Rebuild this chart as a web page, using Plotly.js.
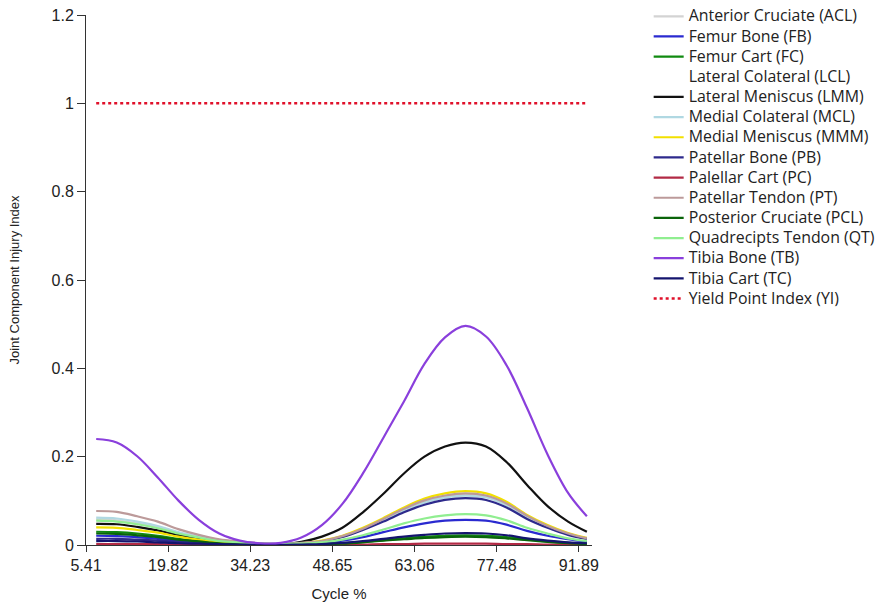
<!DOCTYPE html>
<html>
<head>
<meta charset="utf-8">
<script src="https://cdn.plot.ly/plotly-3.0.1.min.js"></script>
<style>
html,body{margin:0;padding:0;background:#fff;}
#chart{width:880px;height:610px;}
</style>
</head>
<body>
<div id="chart"></div>
<script>
// Cycle % sample positions
const cycle = [7.2, 10.8, 14.4, 18.0, 21.6, 25.2, 28.8, 32.4, 36.0, 39.6, 43.2, 46.8, 50.4, 54.0, 57.6, 61.2, 64.8, 68.4, 72.0, 75.6, 79.2, 82.8, 86.4, 90.0, 93.3];
const xTickVals = [5.41, 19.82, 34.23, 48.65, 63.06, 77.48, 91.89];
const xTickText = ["5.41", "19.82", "34.23", "48.65", "63.06", "77.48", "91.89"];
const yTickVals = [0, 0.2, 0.4, 0.6, 0.8, 1, 1.2];
const yTickText = ["0", "0.2", "0.4", "0.6", "0.8", "1", "1.2"];

const seriesNames = ["Anterior Cruciate (ACL)", "Femur Bone (FB)", "Femur Cart (FC)", "Lateral Colateral (LCL)", "Lateral Meniscus (LMM)", "Medial Colateral (MCL)", "Medial Meniscus (MMM)", "Patellar Bone (PB)", "Palellar Cart (PC)", "Patellar Tendon (PT)", "Posterior Cruciate (PCL)", "Quadrecipts Tendon (QT)", "Tibia Bone (TB)", "Tibia Cart (TC)", "Yield Point Index (YI)"];

const acl = [0.058, 0.056, 0.049, 0.040, 0.027, 0.017, 0.010, 0.006, 0.003, 0.002, 0.004, 0.009, 0.019, 0.036, 0.057, 0.080, 0.098, 0.109, 0.114, 0.109, 0.091, 0.064, 0.042, 0.025, 0.015];
const fb  = [0.021, 0.020, 0.018, 0.014, 0.010, 0.006, 0.004, 0.002, 0.001, 0.001, 0.002, 0.005, 0.010, 0.018, 0.029, 0.040, 0.049, 0.055, 0.057, 0.055, 0.046, 0.032, 0.021, 0.013, 0.007];
const fc  = [0.030, 0.029, 0.026, 0.021, 0.014, 0.009, 0.005, 0.003, 0.002, 0.001, 0.001, 0.002, 0.004, 0.007, 0.011, 0.015, 0.019, 0.021, 0.022, 0.021, 0.018, 0.012, 0.008, 0.005, 0.003];
const lcl = [0.010, 0.010, 0.009, 0.007, 0.005, 0.003, 0.002, 0.001, 0.001, 0.000, 0.001, 0.003, 0.007, 0.013, 0.020, 0.028, 0.034, 0.038, 0.040, 0.038, 0.032, 0.022, 0.015, 0.009, 0.005];
const lmm = [0.048, 0.047, 0.041, 0.033, 0.023, 0.014, 0.008, 0.005, 0.002, 0.001, 0.007, 0.019, 0.039, 0.074, 0.116, 0.162, 0.200, 0.223, 0.232, 0.223, 0.188, 0.136, 0.088, 0.053, 0.030];
const mcl = [0.062, 0.060, 0.053, 0.043, 0.029, 0.019, 0.011, 0.006, 0.003, 0.002, 0.004, 0.009, 0.019, 0.036, 0.056, 0.078, 0.096, 0.108, 0.112, 0.108, 0.090, 0.063, 0.041, 0.025, 0.015];
const mmm = [0.040, 0.039, 0.034, 0.028, 0.019, 0.012, 0.007, 0.004, 0.002, 0.001, 0.004, 0.010, 0.021, 0.039, 0.061, 0.085, 0.105, 0.117, 0.122, 0.117, 0.098, 0.068, 0.045, 0.027, 0.016];
const pb  = [0.014, 0.014, 0.012, 0.010, 0.007, 0.004, 0.002, 0.001, 0.001, 0.000, 0.003, 0.008, 0.018, 0.034, 0.053, 0.074, 0.091, 0.102, 0.106, 0.102, 0.085, 0.059, 0.039, 0.023, 0.014];
const pc  = [0.002, 0.002, 0.002, 0.002, 0.001, 0.001, 0.001, 0.001, 0.000, 0.000, 0.000, 0.000, 0.001, 0.001, 0.002, 0.002, 0.003, 0.003, 0.003, 0.003, 0.002, 0.002, 0.001, 0.001, 0.001];
const pt  = [0.077, 0.075, 0.065, 0.053, 0.036, 0.023, 0.013, 0.008, 0.004, 0.002, 0.005, 0.009, 0.020, 0.037, 0.059, 0.082, 0.101, 0.112, 0.117, 0.112, 0.094, 0.066, 0.043, 0.026, 0.015];
const pcl = [0.026, 0.025, 0.022, 0.018, 0.012, 0.008, 0.004, 0.003, 0.001, 0.001, 0.001, 0.002, 0.003, 0.006, 0.010, 0.013, 0.016, 0.018, 0.019, 0.018, 0.015, 0.011, 0.007, 0.004, 0.002];
const qt  = [0.055, 0.053, 0.047, 0.038, 0.026, 0.017, 0.009, 0.006, 0.003, 0.002, 0.003, 0.006, 0.012, 0.022, 0.035, 0.049, 0.060, 0.067, 0.070, 0.067, 0.056, 0.039, 0.026, 0.015, 0.009];
const tb  = [0.240, 0.232, 0.201, 0.153, 0.101, 0.057, 0.026, 0.010, 0.004, 0.005, 0.017, 0.045, 0.093, 0.162, 0.243, 0.325, 0.410, 0.470, 0.496, 0.472, 0.407, 0.310, 0.205, 0.118, 0.065];
const tc  = [0.009, 0.009, 0.008, 0.006, 0.004, 0.003, 0.002, 0.001, 0.000, 0.000, 0.001, 0.002, 0.005, 0.009, 0.014, 0.019, 0.023, 0.026, 0.027, 0.026, 0.022, 0.015, 0.010, 0.006, 0.004];
const yi  = [1, 1, 1, 1, 1, 1, 1, 1, 1, 1, 1, 1, 1, 1, 1, 1, 1, 1, 1, 1, 1, 1, 1, 1, 1];

const seriesValues = [acl, fb, fc, lcl, lmm, mcl, mmm, pb, pc, pt, pcl, qt, tb, tc, yi];
const seriesColors = ["#d3d3d3", "#2a2ad0", "#108a10", "#ffffff", "#111111", "#b0d8e2", "#f2e000", "#2e2a8c", "#b22a45", "#bc9a9a", "#0a640a", "#90ee90", "#8a3fdc", "#14146e", "#e0102a"];
// draw order: white LCL first so it does not hide other lines
const drawOrder = [3, 0, 1, 2, 4, 5, 6, 7, 8, 9, 10, 11, 13, 12, 14];

const traces = drawOrder.map(i => {
  const isYI = i === 14;
  return {
    type: 'scatter',
    mode: 'lines',
    name: '<span style="font-size:15.9px">' + seriesNames[i] + '</span>',
    x: cycle,
    y: seriesValues[i],
    legendrank: i + 1,
    line: {
      color: seriesColors[i],
      width: isYI ? 2.5 : 2.2,
      shape: isYI ? 'linear' : 'spline',
      smoothing: 1,
      dash: isYI ? 'dot' : 'solid'
    },
    hoverinfo: 'skip'
  };
});

const layout = {
  width: 880,
  height: 610,
  margin: {l: 86, r: 288, t: 15, b: 65, autoexpand: false},
  paper_bgcolor: '#ffffff',
  plot_bgcolor: '#ffffff',
  font: {family: 'Liberation Sans, Arial, sans-serif', color: '#222222'},
  showlegend: true,
  legend: {
    x: 1.112, xanchor: 'left',
    y: 1.026, yanchor: 'top',
    bgcolor: 'rgba(0,0,0,0)',
    font: {size: 13.2, family: 'Open Sans, sans-serif', color: '#222222'},
    traceorder: 'normal',
    itemwidth: 30
  },
  xaxis: {
    range: [5.41, 94.2],
    tickmode: 'array',
    tickvals: xTickVals,
    ticktext: xTickText,
    ticks: 'outside',
    ticklen: 6,
    tickcolor: '#333333',
    showline: true,
    linecolor: '#333333',
    linewidth: 1,
    showgrid: false,
    zeroline: false,
    tickfont: {size: 16, color: '#222222'},
    title: {text: 'Cycle %', font: {size: 15, color: '#222222'}, standoff: 15}
  },
  yaxis: {
    range: [0, 1.2],
    tickmode: 'array',
    tickvals: yTickVals,
    ticktext: yTickText,
    ticks: 'outside',
    ticklen: 8,
    tickcolor: '#333333',
    showline: true,
    linecolor: '#333333',
    linewidth: 1,
    showgrid: false,
    zeroline: false,
    tickfont: {size: 16, color: '#222222'},
    title: {text: 'Joint Component Injury Index', font: {size: 13, color: '#222222'}, standoff: 28}
  }
};

Plotly.newPlot('chart', traces, layout, {displayModeBar: false, staticPlot: true});
</script>
</body>
</html>
